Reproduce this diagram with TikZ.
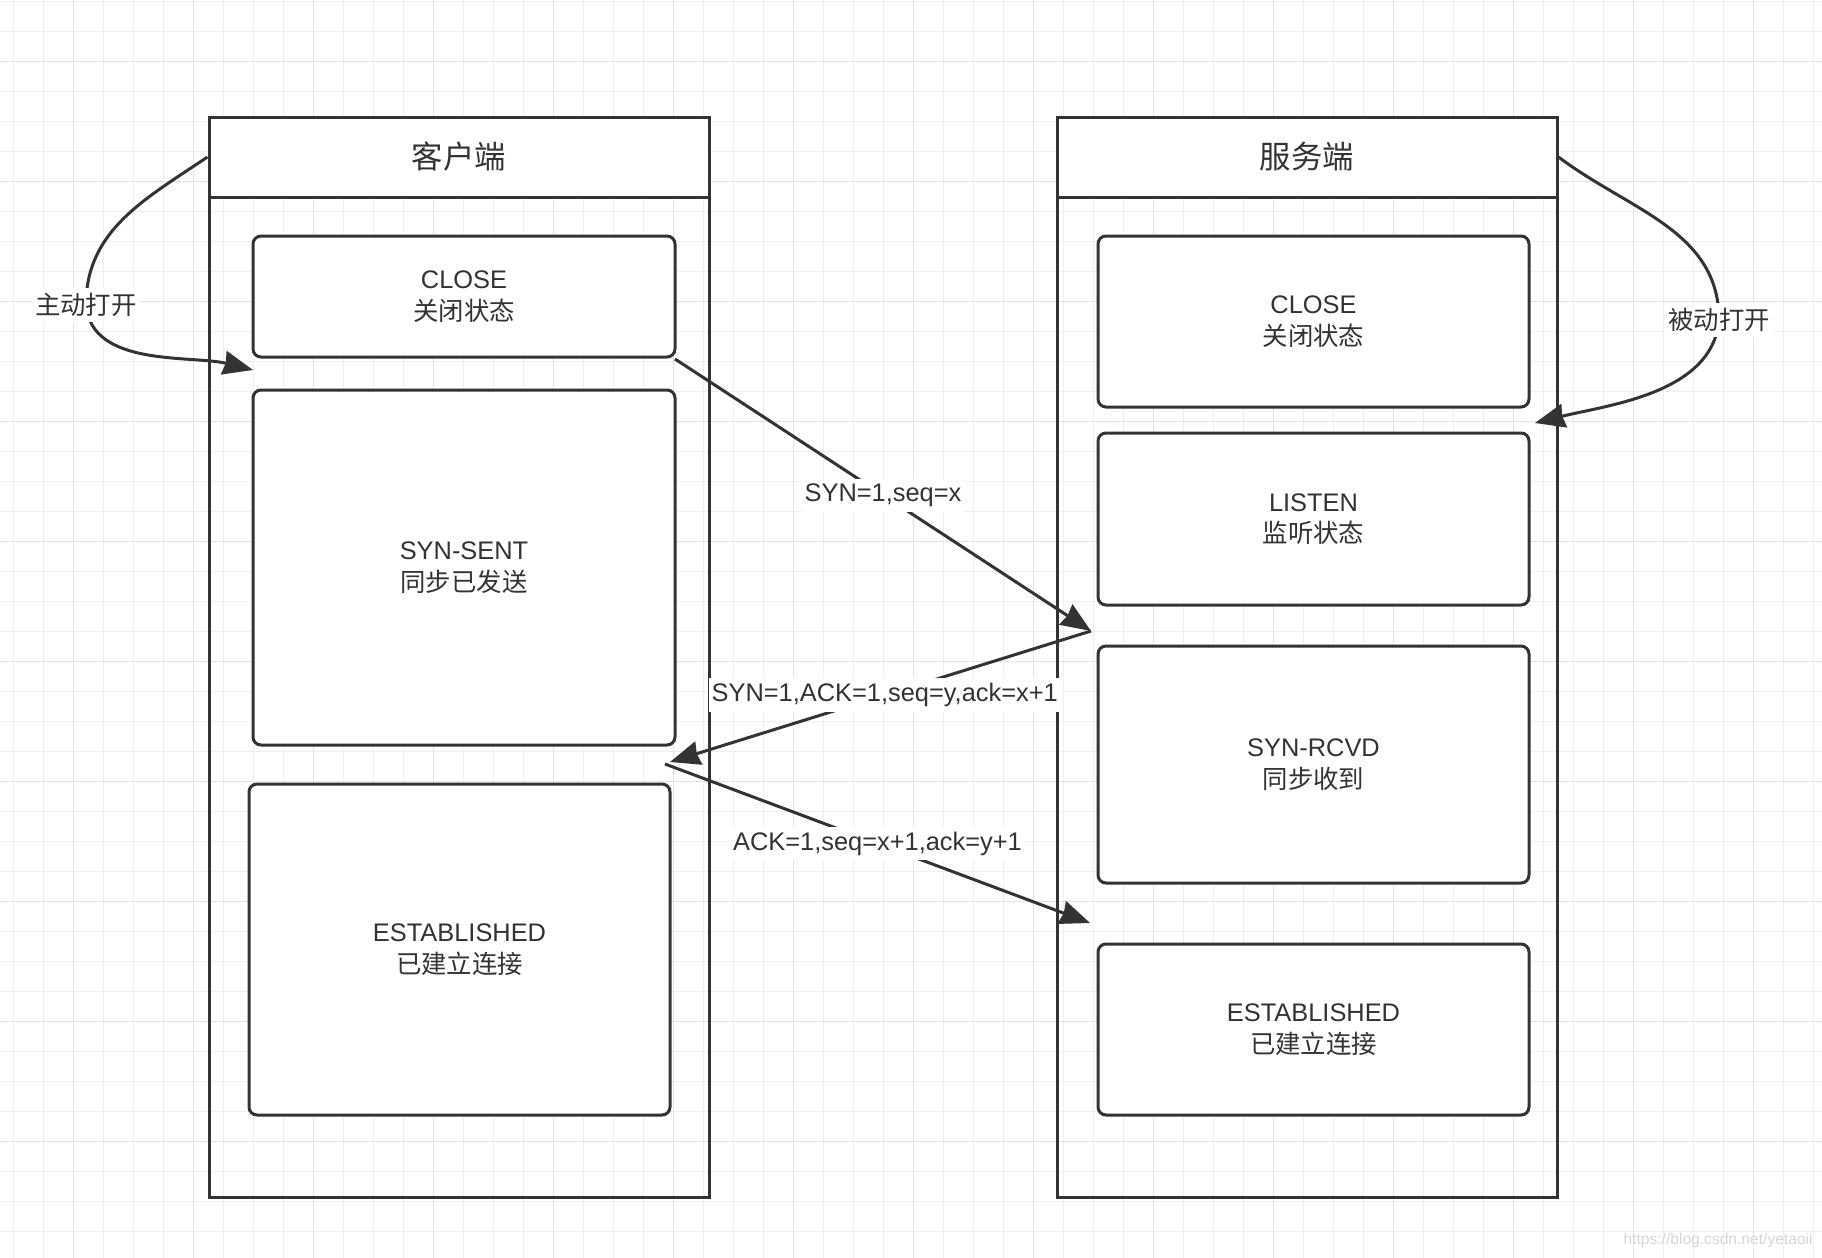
\documentclass[tikz,border=0pt]{standalone}
\usepackage{fontspec}
\setmainfont{Liberation Sans}
\newfontfamily\cjk{Noto Sans CJK SC}
\usetikzlibrary{arrows.meta}
\definecolor{ink}{HTML}{333333}
\definecolor{gridminor}{HTML}{EFEFEF}
\definecolor{gridmajor}{HTML}{E3E3E3}
\definecolor{wm}{HTML}{D6D6D6}
\tikzset{
  frame/.style={draw=ink, line width=1.5pt, inner sep=0pt, text=ink},
  hdr/.style={frame, fill=white, minimum width=250pt, minimum height=40pt, font=\cjk\fontsize{15.7}{19}\selectfont},
  body/.style={frame, minimum width=250pt, minimum height=500pt},
  state/.style={draw=ink, line width=1.5pt, fill=white, rounded corners=4pt, text=ink, align=center, inner sep=0pt, font=\fontsize{12.7}{15.7}\selectfont},
  arr/.style={draw=ink, line width=1.5pt, -{Stealth[length=15pt,width=12pt,inset=1pt]}},
  lbl/.style={fill=white, text=ink, inner xsep=1.5pt, inner ysep=2.5pt, font=\fontsize{12.7}{15.7}\selectfont},
}
\begin{document}
\begin{tikzpicture}[x=0.5pt,y=-0.5pt]
\useasboundingbox[fill=white] (0,0) rectangle (1822,1258);
% grid
\foreach \i in {0,...,60} \draw[gridminor, line width=0.6pt] ({13.3+30*\i},0) -- ({13.3+30*\i},1258);
\foreach \j in {0,...,41} \draw[gridminor, line width=0.6pt] (0,{1.7+30*\j}) -- (1822,{1.7+30*\j});
\foreach \i in {0,...,14} \draw[gridmajor, line width=0.6pt] ({73.3+120*\i},0) -- ({73.3+120*\i},1258);
\foreach \j in {0,...,9} \draw[gridmajor, line width=0.6pt] (0,{61.7+120*\j}) -- (1822,{61.7+120*\j});

% containers
\node[body] (lbody) at (459,697) {};
\node[hdr] (lhead) at (459,157) {客户端};
\node[body] (rbody) at (1307,697) {};
\node[hdr] (rhead) at (1307,157) {服务端};

% client states
\node[state, minimum width=211pt, minimum height=60.5pt] (lclose) at (464,296.5) {CLOSE\\{\cjk 关闭状态}};
\node[state, minimum width=211pt, minimum height=177.5pt] (lsent) at (464,567.5) {SYN-SENT\\{\cjk 同步已发送}};
\node[state, minimum width=210.5pt, minimum height=165.5pt] (lest) at (459.5,949.5) {ESTABLISHED\\{\cjk 已建立连接}};

% server states
\node[state, minimum width=215.5pt, minimum height=85.5pt] (rclose) at (1313.5,321.5) {CLOSE\\{\cjk 关闭状态}};
\node[state, minimum width=215.5pt, minimum height=86pt] (rlisten) at (1313.5,519) {LISTEN\\{\cjk 监听状态}};
\node[state, minimum width=215.5pt, minimum height=118.5pt] (rrcvd) at (1313.5,764.5) {SYN-RCVD\\{\cjk 同步收到}};
\node[state, minimum width=215.5pt, minimum height=85.5pt] (rest) at (1313.5,1029.5) {ESTABLISHED\\{\cjk 已建立连接}};

% free connector ends
\coordinate (aopenEnd) at (253,370);
\coordinate (popenEnd) at (1535,423);
\coordinate (synStart) at (675,359);
\coordinate (rgap) at (1091,631);
\coordinate (lgapIn) at (670,762);
\coordinate (lgapOut) at (665,764);
\coordinate (ackEnd) at (1090,923);

% open arrows
\draw[arr] (lhead.west) to[out=214,in=90] (86,305) node[lbl]{\cjk 主动打开} to[out=275,in=166,looseness=0.9] (aopenEnd);
\draw[arr] (rhead.east) to[out=-37,in=90] (1719,320) node[lbl]{\cjk 被动打开} to[out=265,in=14,looseness=0.9] (popenEnd);

% handshake
\draw[arr] (synStart) -- node[lbl,pos=0.5]{SYN=1,seq=x} (rgap);
\draw[arr] (rgap) -- node[lbl,pos=0.49]{SYN=1,ACK=1,seq=y,ack=x+1} (lgapIn);
\draw[arr] (lgapOut) -- node[lbl,pos=0.5]{ACK=1,seq=x+1,ack=y+1} (ackEnd);

% watermark
\node[anchor=east, text=wm, inner sep=0pt, font=\fontsize{7.8}{9}\selectfont] (wmark) at (1813,1240) {https://blog.csdn.net/yetaoii};
\end{tikzpicture}
\end{document}
